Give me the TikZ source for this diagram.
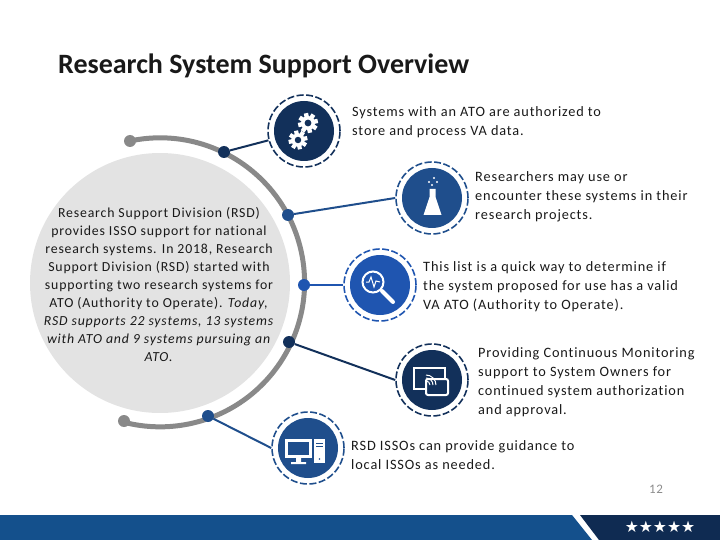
\documentclass[tikz,border=0pt]{standalone}
\usepackage{fontspec}
\setmainfont{Carlito}[LetterSpace=6,Ligatures=NoCommon]
\newfontfamily\titlefont{Carlito}
\newfontfamily\starfont{DejaVu Sans}
\definecolor{navy}{HTML}{12305A}
\definecolor{midblue}{HTML}{1F4E8C}
\definecolor{brightblue}{HTML}{1F55B0}
\definecolor{footblue}{HTML}{14508C}
\definecolor{footnavy}{HTML}{0F2B52}
\definecolor{arcgray}{HTML}{898989}
\definecolor{discgray}{HTML}{E3E3E3}
\tikzset{
  body/.style={font=\fontsize{14.3}{18.9}\selectfont,anchor=west,align=left,inner sep=0pt,text=black!90},
  icondisc/.style={circle,minimum size=60pt,inner sep=0pt,fill=#1},
  iconring/.style={circle,minimum size=72pt,inner sep=0pt,draw=#1,line width=1.6pt,dash pattern=on 7pt off 2.5pt},
  hub/.style={circle,minimum size=12pt,inner sep=0pt,fill=#1},
  link/.style={line width=2pt,draw=#1},
  gearicon/.pic={
    \fill[white] (0,0) circle (7);
    \foreach \a in {0,45,...,315}
      \fill[white,rotate=\a+12] (-2.2,-10) rectangle (2.2,-5);
    \fill[navy] (0,0) circle (3.4);
  }
}
\begin{document}
\begin{tikzpicture}[x=1pt,y=-1pt]
\useasboundingbox (0,0) rectangle (720,540);
% footer
\fill[footblue] (0,515) -- (572,515) -- (592,540) -- (0,540) -- cycle;
\fill[footnavy] (580,515) -- (720,515) -- (720,540) -- (599,540) -- cycle;
\node[text=white,font=\starfont\fontsize{15.7}{18}\selectfont,inner sep=0pt] (stars) at (660,527) {★★★★★};
\node[text=black!45,font=\fontsize{13}{14}\selectfont,inner sep=0pt] (pagenum) at (656,489) {12};
% title
\node[anchor=west,inner sep=0pt,font=\titlefont\bfseries\fontsize{28}{32}\selectfont,text=black!90] (title) at (58,65.5) {Research System Support Overview};
% big disc and arc
\fill[discgray] (160,283) circle (130);
\draw[arcgray,line width=5pt] (130,141) arc[start angle=-102,end angle=104.5,radius=144.5];
\node[hub=arcgray] (capTop) at (130,141) {};
\node[hub=arcgray] (capBot) at (124,421) {};
\node[font=\fontsize{13.8}{18}\selectfont,align=center,inner sep=0pt,text=black!90] (rsdtext) at (159,284.5) {Research Support Division (RSD)\\provides ISSO support for national\\research systems. In 2018, Research\\Support Division (RSD) started with\\supporting two research systems for\\ATO (Authority to Operate). \textit{Today,}\\\textit{RSD supports 22 systems, 13 systems}\\\textit{with ATO and 9 systems pursuing an}\\\textit{ATO.}};
% hubs
\node[hub=navy] (hubGears) at (224,152) {};
\node[hub=midblue] (hubFlask) at (288,215) {};
\node[hub=brightblue] (hubScope) at (304,285) {};
\node[hub=navy] (hubWifi) at (289,342) {};
\node[hub=midblue] (hubPc) at (208,416) {};
% icons
\node[iconring=navy] (ringGears) at (304,131) {};
\node[icondisc=navy] (discGears) at (304,131) {};
\node[iconring=midblue] (ringFlask) at (432,198) {};
\node[icondisc=midblue] (discFlask) at (432,198) {};
\node[iconring=brightblue] (ringScope) at (380,285) {};
\node[icondisc=brightblue] (discScope) at (380,285) {};
\node[iconring=navy] (ringWifi) at (432,380) {};
\node[icondisc=navy] (discWifi) at (432,380) {};
\node[iconring=midblue] (ringPc) at (308,448) {};
\node[icondisc=midblue] (discPc) at (308,448) {};
% links
\draw[link=navy] (hubGears) -- (ringGears);
\draw[link=midblue] (hubFlask) -- (ringFlask.west);
\draw[link=brightblue] (hubScope) -- (ringScope.west);
\draw[link=navy] (hubWifi) -- (ringWifi.west);
\draw[link=midblue] (hubPc) -- (ringPc.west);
% gears
\pic at (308,123) {gearicon};
\pic[scale=0.95] at (298,140) {gearicon};
% flask
\fill[white] (429.5,189) -- (435.5,189) -- (435.5,197) -- (441.5,215) -- (423.5,215) -- (429.5,197) -- cycle;
\foreach \x/\y in {434/178,429/182,437/182,432/185}
  \fill[white] (\x,\y) circle (1.1);
% magnifier
\draw[white,line width=2pt] (373,282) circle (10.5);
\draw[white,line width=4pt,line cap=round] (382,291) -- (393,302);
\draw[white,line width=1pt] (366,282) -- (369,282) -- (371,277) -- (374,287) -- (376,281) -- (380,282);
% wifi
\draw[white,line width=2pt] (414,368) rectangle (445,389);
\fill[navy,rounded corners=2pt] (425,378) rectangle (449,396);
\draw[white,line width=2pt,rounded corners=2pt] (426,379) rectangle (448,395);
\foreach \r in {4,7,10}
  \draw[white,line width=1pt] (426+\r,385) arc[start angle=0,end angle=-90,radius=\r];
% computer
\fill[white] (285,439) rectangle (312,458);
\fill[midblue] (288,442) rectangle (309,455);
\fill[white] (296,458) rectangle (301,462) (291,462) rectangle (306,464);
\fill[white] (314,439) rectangle (325,463);
\draw[midblue,line width=0.8pt] (316,443) -- (323,443) (316,446) -- (323,446);
\fill[midblue] (319.5,459) circle (0.9);
% texts
\node[body] (txtGears) at (352,122) {Systems with an ATO are authorized to\\store and process VA data.};
\node[body] (txtFlask) at (475,197) {Researchers may use or\\encounter these systems in their\\research projects.};
\node[body] (txtScope) at (423,286.5) {This list is a quick way to determine if\\the system proposed for use has a valid\\VA ATO (Authority to Operate).};
\node[body] (txtWifi) at (478,382) {Providing Continuous Monitoring\\support to System Owners for\\continued system authorization\\and approval.};
\node[body] (txtPc) at (351,455) {RSD ISSOs can provide guidance to\\local ISSOs as needed.};
\end{tikzpicture}
\end{document}
